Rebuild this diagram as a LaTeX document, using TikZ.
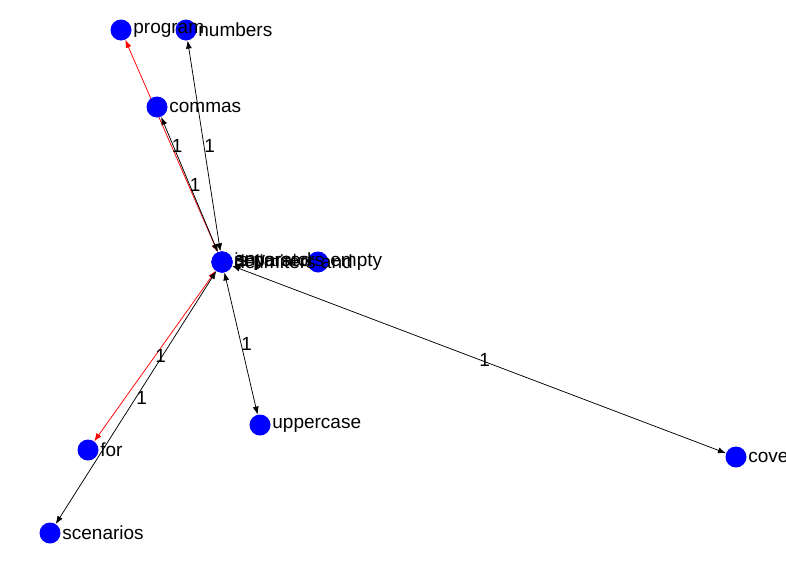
\documentclass[tikz,border=0pt]{standalone}
\usepackage{fontspec}
\setmainfont{Liberation Sans}
\usetikzlibrary{arrows.meta,backgrounds}
\begin{document}
\begin{tikzpicture}[x=1pt,y=-1pt,
  vertex/.style={circle,fill={rgb,255:red,0;green,0;blue,255},inner sep=0pt,minimum size=21pt},
  vlabel/.style={inner sep=0pt,label distance=1.5pt,font=\fontsize{19}{21}\selectfont},
  link/.style={line width=0.75pt,{Latex[length=8pt,width=6pt]}-{Latex[length=8pt,width=6pt]}},
  redlink/.style={link,draw={rgb,255:red,255;green,0;blue,0}},
  weight/.style={anchor=west,inner sep=0pt,font=\fontsize{19}{21}\selectfont}]
\path[use as bounding box] (0,0) rectangle (786,563);
% vertices
\node[vertex,label={[vlabel]0:numbers}] (numbers) at (186,30) {};
\node[vertex,label={[vlabel]0:program}] (program) at (121,30) {};
\node[vertex,label={[vlabel]0:commas}] (commas) at (157,107) {};
\node[vertex,label={[vlabel]0:empty}] (empty) at (318,262) {};
\node[vertex,label={[vlabel]0:any}] (hub) at (222,262) {};
\node[vertex,label={[vlabel]0:is parsed}] (hubparsed) at (222,262) {};
\node[vertex,label={[vlabel]0:delimiters and}] (hubdelim) at (222,262) {};
\node[vertex,label={[vlabel]0:separators}] (hubsep) at (222,262) {};
\node[vertex,label={[vlabel]0:for}] (for) at (88,450) {};
\node[vertex,label={[vlabel]0:scenarios}] (scenarios) at (50,533) {};
\node[vertex,label={[vlabel]0:uppercase}] (uppercase) at (260,425) {};
\node[vertex,label={[vlabel]0:cove}] (cove) at (736,457) {};
% edges
\begin{scope}[on background layer]
\draw[redlink] (hub) -- node[weight]{1} (program);
\draw[link] (hub) -- node[weight]{1} (numbers);
\draw[link] (hub) -- node[weight]{1} (commas);
\draw[redlink] (hub) -- node[weight]{1} (for);
\draw[link] (hub) -- node[weight]{1} (scenarios);
\draw[link] (hub) -- node[weight]{1} (uppercase);
\draw[link] (hub) -- node[weight]{1} (cove);
\end{scope}
\end{tikzpicture}
\end{document}
